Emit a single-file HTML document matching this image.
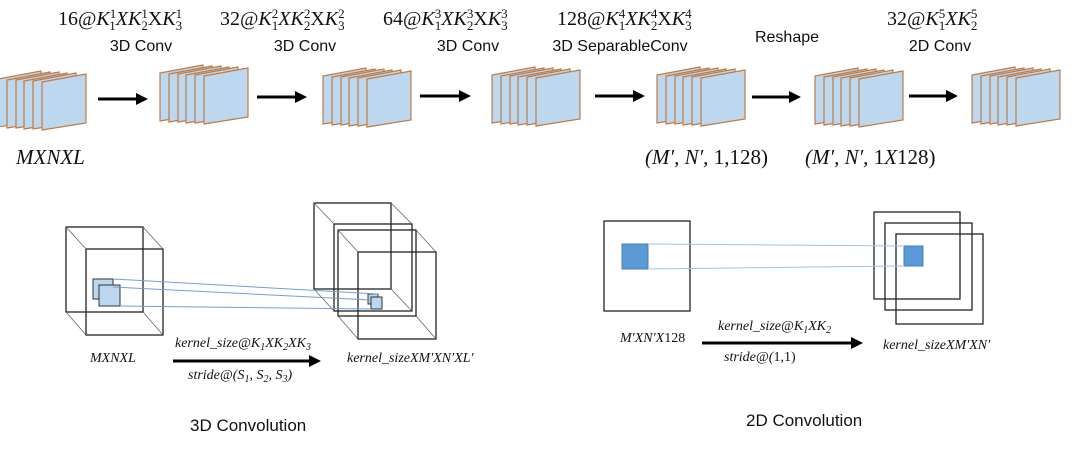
<!DOCTYPE html>
<html><head><meta charset="utf-8"><style>
body{margin:0;background:#fff;width:1085px;height:450px;overflow:hidden}
svg{display:block}
.m{font-family:"Liberation Serif",serif;font-style:italic;fill:#111}
.r{font-family:"Liberation Serif",serif;fill:#111}
.s{font-family:"Liberation Sans",sans-serif;fill:#111}
</style></head><body>
<svg width="1085" height="450" viewBox="0 0 1085 450">
<defs>
<g id="st">
 <polygon points="2,79 45,71 45,120 2,127" fill="#bdd7ee" stroke="#c07a45" stroke-width="1.2"/>
 <polygon points="11,80 54,72 54,121 11,128" fill="#bdd7ee" stroke="#c07a45" stroke-width="1.2"/>
 <polygon points="20,80 63,72 63,121 20,128" fill="#bdd7ee" stroke="#c07a45" stroke-width="1.2"/>
 <polygon points="28,81 71,73 71,122 28,129" fill="#bdd7ee" stroke="#c07a45" stroke-width="1.2"/>
 <polygon points="37,81 80,73 80,122 37,129" fill="#bdd7ee" stroke="#c07a45" stroke-width="1.2"/>
 <polygon points="46,82 90,74 90,123 46,130" fill="#bdd7ee" stroke="#c07a45" stroke-width="1.2"/>
</g>
<marker id="ah" markerWidth="4" markerHeight="4" refX="3" refY="2" orient="auto" markerUnits="strokeWidth"><path d="M0,0 L4,2 L0,4z" fill="#000"/></marker>
</defs>
<use href="#st" x="-4" y="0"/>
<use href="#st" x="158" y="-6"/>
<use href="#st" x="321" y="-3"/>
<use href="#st" x="490" y="-4"/>
<use href="#st" x="655" y="-4"/>
<use href="#st" x="813" y="-3"/>
<use href="#st" x="970" y="-4"/>
<g stroke="#000" stroke-width="3" marker-end="url(#ah)">
<line x1="98" y1="99" x2="145" y2="99"/>
<line x1="257" y1="97" x2="304" y2="97"/>
<line x1="420" y1="96" x2="468" y2="96"/>
<line x1="595" y1="96" x2="642" y2="96"/>
<line x1="752" y1="97" x2="798" y2="97"/>
<line x1="909" y1="96" x2="955" y2="96"/>
</g>
<g font-size="20">
<text class="r" x="58" y="25">16@<tspan class="m">K</tspan><tspan font-size="13" dy="-7">1</tspan><tspan font-size="13" dx="-6.5" dy="12">1</tspan><tspan class="m" dy="-5">XK</tspan><tspan font-size="13" dy="-7">1</tspan><tspan font-size="13" dx="-6.5" dy="12">2</tspan><tspan dy="-5">X</tspan><tspan class="m">K</tspan><tspan font-size="13" dy="-7">1</tspan><tspan font-size="13" dx="-6.5" dy="12">3</tspan></text>
<text class="r" x="220" y="25">32@<tspan class="m">K</tspan><tspan font-size="13" dy="-7">2</tspan><tspan font-size="13" dx="-6.5" dy="12">1</tspan><tspan class="m" dy="-5">XK</tspan><tspan font-size="13" dy="-7">2</tspan><tspan font-size="13" dx="-6.5" dy="12">2</tspan><tspan dy="-5">X</tspan><tspan class="m">K</tspan><tspan font-size="13" dy="-7">2</tspan><tspan font-size="13" dx="-6.5" dy="12">3</tspan></text>
<text class="r" x="383" y="25">64@<tspan class="m">K</tspan><tspan font-size="13" dy="-7">3</tspan><tspan font-size="13" dx="-6.5" dy="12">1</tspan><tspan class="m" dy="-5">XK</tspan><tspan font-size="13" dy="-7">3</tspan><tspan font-size="13" dx="-6.5" dy="12">2</tspan><tspan dy="-5">X</tspan><tspan class="m">K</tspan><tspan font-size="13" dy="-7">3</tspan><tspan font-size="13" dx="-6.5" dy="12">3</tspan></text>
<text class="r" x="557" y="25">128@<tspan class="m">K</tspan><tspan font-size="13" dy="-7">4</tspan><tspan font-size="13" dx="-6.5" dy="12">1</tspan><tspan class="m" dy="-5">XK</tspan><tspan font-size="13" dy="-7">4</tspan><tspan font-size="13" dx="-6.5" dy="12">2</tspan><tspan dy="-5">X</tspan><tspan class="m">K</tspan><tspan font-size="13" dy="-7">4</tspan><tspan font-size="13" dx="-6.5" dy="12">3</tspan></text>
<text class="r" x="887" y="25">32@<tspan class="m">K</tspan><tspan font-size="13" dy="-7">5</tspan><tspan font-size="13" dx="-6.5" dy="12">1</tspan><tspan class="m" dy="-5">XK</tspan><tspan font-size="13" dy="-7">5</tspan><tspan font-size="13" dx="-6.5" dy="12">2</tspan></text>
</g>
<g font-size="16">
<text class="s" x="141" y="51" text-anchor="middle">3D Conv</text>
<text class="s" x="305" y="51" text-anchor="middle">3D Conv</text>
<text class="s" x="468" y="51" text-anchor="middle">3D Conv</text>
<text class="s" x="620" y="51" text-anchor="middle">3D SeparableConv</text>
<text class="s" x="787" y="42" text-anchor="middle">Reshape</text>
<text class="s" x="940" y="51" text-anchor="middle">2D Conv</text>
</g>
<text class="m" x="16" y="164" font-size="21">MXNXL</text>
<text class="m" x="645" y="164" font-size="21">(M′, N′, <tspan font-style="normal">1,128)</tspan></text>
<text class="m" x="805" y="164" font-size="21">(M′, N′, <tspan font-style="normal">1</tspan>X<tspan font-style="normal">128)</tspan></text>

<!-- 3D conv -->
<g fill="none" stroke="#222" stroke-width="1.3">
<rect x="66" y="227" width="77" height="85"/><rect x="86" y="249" width="77" height="86"/>
<path d="M66,227L86,249M143,227L163,249M66,312L86,335M143,312L163,335" stroke="#666" stroke-width="0.8"/>
<rect x="314" y="203" width="77" height="86"/><rect x="334" y="224" width="78" height="87"/>
<path d="M314,203L334,224M391,203L412,224M314,289L334,311M391,289L412,311" stroke="#666" stroke-width="0.8"/>
<rect x="338" y="230" width="78" height="86"/><rect x="358" y="252" width="78" height="87"/>
<path d="M338,230L358,252M416,230L436,252M338,316L358,339M416,316L436,339" stroke="#666" stroke-width="0.8"/>
</g>
<rect x="93" y="279" width="20" height="20" fill="#bdd7ee" stroke="#333"/>
<rect x="99" y="285" width="21" height="21" fill="#bdd7ee" stroke="#333"/>
<rect x="368" y="294" width="10" height="10" fill="#bdd7ee" stroke="#333"/>
<rect x="371" y="297" width="11" height="12" fill="#bdd7ee" stroke="#333"/>
<g stroke="#6fa0d8" stroke-width="1">
<line x1="113" y1="279" x2="378" y2="294"/><line x1="113" y1="287" x2="371" y2="300"/><line x1="120" y1="306" x2="371" y2="309"/>
</g>
<text class="m" x="175" y="347" font-size="14">kernel_size@K<tspan font-size="10" dy="3">1</tspan><tspan dy="-3">XK</tspan><tspan font-size="10" dy="3">2</tspan><tspan dy="-3">XK</tspan><tspan font-size="10" dy="3">3</tspan></text>
<text class="m" x="90" y="362" font-size="14">MXNXL</text>
<line x1="173" y1="361" x2="318" y2="361" stroke="#000" stroke-width="3" marker-end="url(#ah)"/>
<text class="m" x="188" y="379" font-size="14">stride@(S<tspan font-size="10" dy="3">1</tspan><tspan dy="-3">, S</tspan><tspan font-size="10" dy="3">2</tspan><tspan dy="-3">, S</tspan><tspan font-size="10" dy="3">3</tspan><tspan dy="-3">)</tspan></text>
<text class="m" x="347" y="362" font-size="14">kernel_sizeXM′XN′XL′</text>
<text class="s" x="190" y="431" font-size="17">3D Convolution</text>

<!-- 2D conv -->
<g fill="none" stroke="#222" stroke-width="1.3">
<rect x="604" y="221" width="86" height="90"/>
<rect x="874" y="212" width="86" height="87"/>
<rect x="885" y="223" width="87" height="87"/>
<rect x="896" y="234" width="87" height="90"/>
</g>
<rect x="622" y="244" width="26" height="25" fill="#5b9bd5" stroke="#4a7fb0"/>
<rect x="904" y="246" width="19" height="20" fill="#5b9bd5" stroke="#4a7fb0"/>
<g stroke="#9cc1e8" stroke-width="1"><line x1="648" y1="244" x2="904" y2="246"/><line x1="648" y1="269" x2="904" y2="266"/></g>
<text class="m" x="620" y="342" font-size="14">M′XN′X<tspan font-style="normal">128</tspan></text>
<text class="m" x="718" y="330" font-size="14">kernel_size@K<tspan font-size="10" dy="3">1</tspan><tspan dy="-3">XK</tspan><tspan font-size="10" dy="3">2</tspan></text>
<line x1="702" y1="343" x2="860" y2="343" stroke="#000" stroke-width="3" marker-end="url(#ah)"/>
<text class="m" x="724" y="361" font-size="14">stride@(<tspan font-style="normal">1,1)</tspan></text>
<text class="m" x="883" y="349" font-size="14">kernel_sizeXM′XN′</text>
<text class="s" x="746" y="426" font-size="17">2D Convolution</text>
</svg>
</body></html>
